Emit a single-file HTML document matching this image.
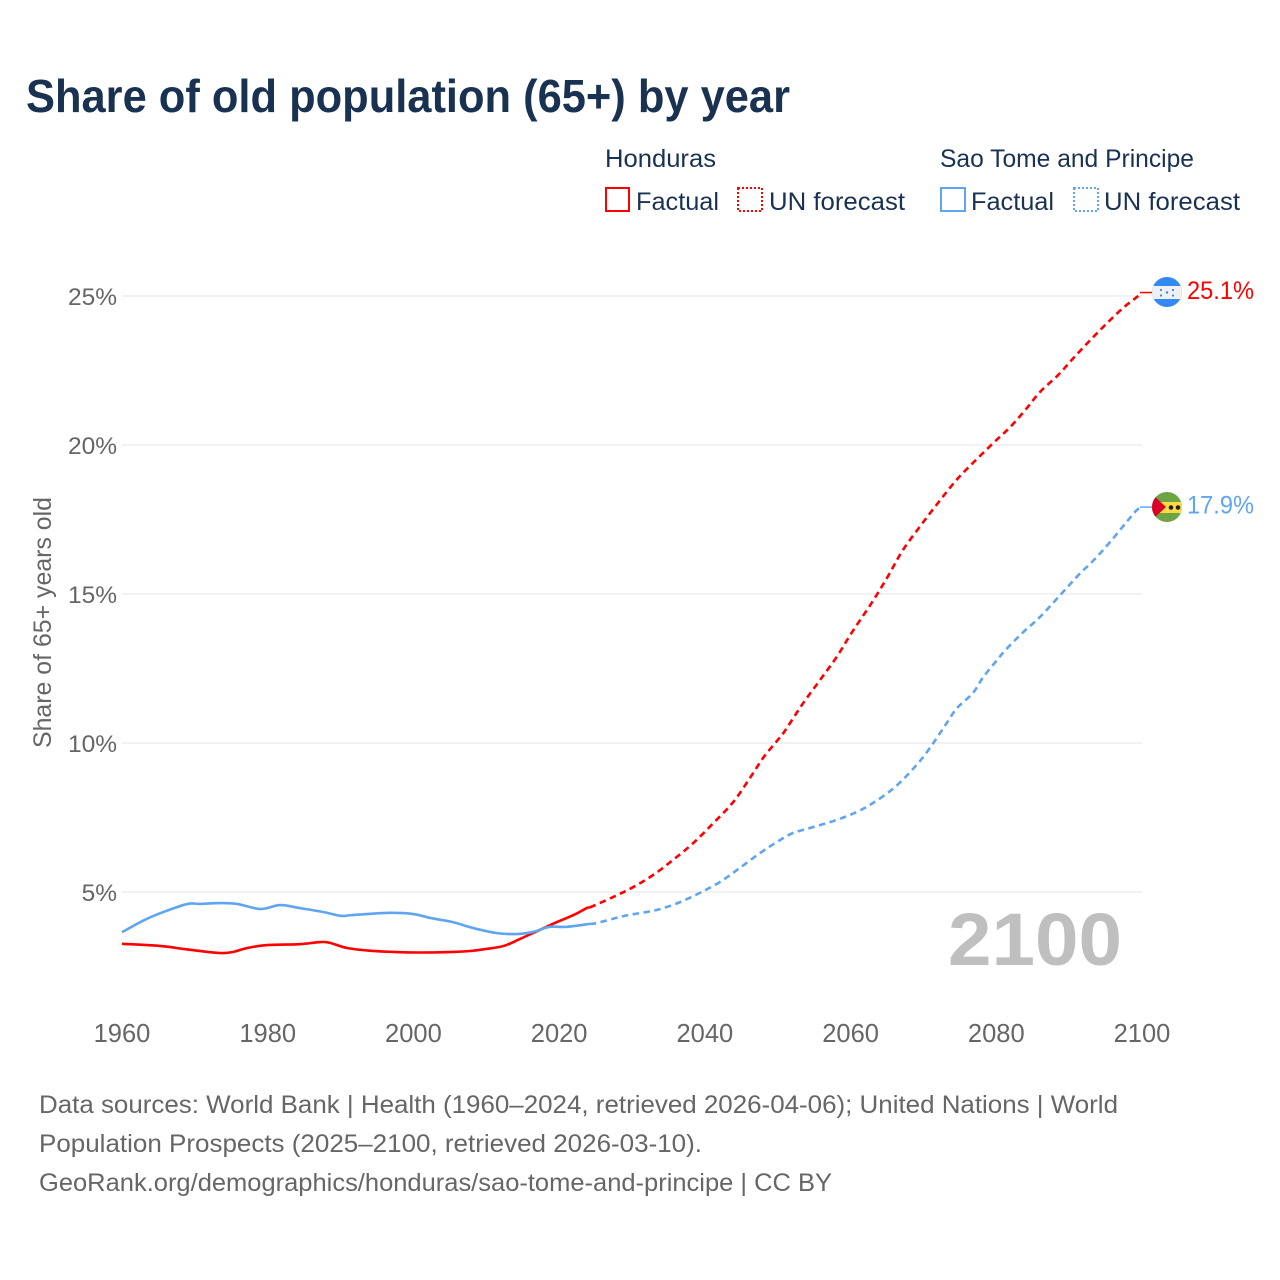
<!DOCTYPE html>
<html lang="en">
<head>
<meta charset="utf-8">
<title>Share of old population (65+) by year</title>
<style>
html,body{margin:0;padding:0;background:#fff;width:1280px;height:1280px;overflow:hidden}
svg{display:block}
text{font-family:"Liberation Sans",Arial,sans-serif}
</style>
</head>
<body>
<svg id="chart" xmlns="http://www.w3.org/2000/svg" width="1280" height="1280" viewBox="0 0 1280 1280">
  <rect width="1280" height="1280" fill="#fff"/>
  <text x="26" y="112" font-size="46" font-weight="700" fill="#1a3252" textLength="764" lengthAdjust="spacingAndGlyphs">Share of old population (65+) by year</text>

  <g font-size="25" fill="#1a3252">
    <text x="605" y="167" textLength="111" lengthAdjust="spacingAndGlyphs">Honduras</text>
    <text x="940" y="167" textLength="254" lengthAdjust="spacingAndGlyphs">Sao Tome and Principe</text>
    <rect x="606" y="188" width="23" height="23" fill="none" stroke="#ff0000" stroke-width="2"/>
    <text x="636" y="210" textLength="83" lengthAdjust="spacingAndGlyphs">Factual</text>
    <rect x="738" y="188" width="24" height="23" fill="none" stroke="#ff0000" stroke-width="2" stroke-dasharray="2 2"/>
    <text x="769" y="210" textLength="136" lengthAdjust="spacingAndGlyphs">UN forecast</text>
    <rect x="941" y="188" width="24" height="23" fill="none" stroke="#60a5f0" stroke-width="2"/>
    <text x="971" y="210" textLength="83" lengthAdjust="spacingAndGlyphs">Factual</text>
    <rect x="1074" y="188" width="24" height="23" fill="none" stroke="#60a5f0" stroke-width="2" stroke-dasharray="2 2"/>
    <text x="1104" y="210" textLength="136" lengthAdjust="spacingAndGlyphs">UN forecast</text>
  </g>

  <g id="grid"></g>
  <g id="yticks"></g>
  <g id="xticks"></g>
  <text transform="translate(51,622.5) rotate(-90)" text-anchor="middle" font-size="25" fill="#666" textLength="251" lengthAdjust="spacingAndGlyphs">Share of 65+ years old</text>
  <text x="948" y="965" font-size="74" font-weight="700" fill="#bfbfbf" textLength="174" lengthAdjust="spacingAndGlyphs">2100</text>
  <g id="series"></g>

  <g>
    <clipPath id="clipH"><circle cx="1167" cy="292" r="15"/></clipPath>
    <g clip-path="url(#clipH)">
      <rect x="1152" y="277" width="30" height="30" fill="#338af3"/>
      <rect x="1152" y="286" width="30" height="13" fill="#f0f0f0"/>
      <g fill="#338af3">
        <circle cx="1167" cy="292.5" r="1.2"/><circle cx="1161" cy="290" r="1.1"/><circle cx="1173" cy="290" r="1.1"/><circle cx="1161" cy="295.5" r="1.1"/><circle cx="1173" cy="295.5" r="1.1"/>
      </g>
    </g>
  </g>
  <g>
    <clipPath id="clipS"><circle cx="1167" cy="507" r="15"/></clipPath>
    <g clip-path="url(#clipS)">
      <rect x="1152" y="492" width="30" height="30" fill="#6da544"/>
      <rect x="1152" y="502" width="30" height="11" fill="#ffda44"/>
      <path d="M1152 494 L1166 507 L1152 520 Z" fill="#d80027"/>
      <circle cx="1171" cy="507.5" r="2.3" fill="#222"/>
      <circle cx="1178" cy="507.5" r="2.3" fill="#222"/>
    </g>
  </g>

  <g font-size="25" fill="#666">
    <text x="39" y="1113" textLength="1079" lengthAdjust="spacingAndGlyphs">Data sources: World Bank | Health (1960–2024, retrieved 2026-04-06); United Nations | World</text>
    <text x="39" y="1152" textLength="663" lengthAdjust="spacingAndGlyphs">Population Prospects (2025–2100, retrieved 2026-03-10).</text>
    <text x="39" y="1191" textLength="793" lengthAdjust="spacingAndGlyphs">GeoRank.org/demographics/honduras/sao-tome-and-principe | CC BY</text>
  </g>
</svg>
<script>
var yTicks = [5, 10, 15, 20, 25];
var xTicks = [1960, 1980, 2000, 2020, 2040, 2060, 2080, 2100];

var hondurasFactualYears = [1960,1965.2,1968.4,1971.7,1973.9,1975.3,1977.2,1979.9,1984.4,1987.2,1988.6,1990.9,1994,1997.2,2000.9,2005.4,2007.8,2010,2012.4,2014.6,2017,2019.7,2022,2023.8,2024.2];
var hondurasFactualValues = [3.26,3.19,3.09,2.99,2.95,2.99,3.12,3.22,3.25,3.32,3.29,3.12,3.03,2.99,2.97,2.99,3.02,3.09,3.19,3.42,3.69,3.99,4.23,4.46,4.48];

var hondurasForecastYears = [2024.2,2027.4,2030.2,2032.9,2035.6,2038.4,2041.2,2043.9,2046.2,2048,2050,2050.8,2053.5,2055.8,2058.1,2060.2,2062.7,2065,2067.2,2070,2072.3,2074.3,2076.1,2079.6,2081.9,2084.2,2086,2088.5,2090.6,2092.9,2095.2,2097.4,2098.8,2100];
var hondurasForecastValues = [4.48,4.83,5.17,5.57,6.07,6.64,7.32,8.02,8.83,9.5,10.1,10.34,11.34,12.11,12.89,13.72,14.63,15.54,16.48,17.42,18.15,18.76,19.23,20.07,20.6,21.24,21.78,22.35,22.92,23.52,24.09,24.6,24.87,25.1];

var saoTomeFactualYears = [1960,1963,1965.7,1969,1970.7,1973.5,1975.8,1979,1981.7,1984.4,1987.6,1990,1991.3,1993.6,1996.8,2000,2002.3,2005.4,2008.2,2011.5,2014.2,2016.4,2018.7,2021,2024.2];
var saoTomeFactualValues = [3.65,4.05,4.33,4.6,4.6,4.63,4.6,4.43,4.56,4.46,4.33,4.2,4.22,4.26,4.3,4.26,4.13,3.99,3.79,3.62,3.59,3.66,3.83,3.83,3.93];

var saoTomeForecastYears = [2024.2,2025.2,2028.8,2032,2033.9,2036.6,2039.3,2042.1,2044.8,2047.6,2049.9,2052.1,2054.9,2058.1,2060.8,2063.1,2065.8,2068.2,2070.5,2073.2,2074.6,2076.8,2078.2,2080.1,2080.9,2082.2,2083.7,2086,2088.8,2091.3,2093.4,2095.6,2097.9,2099.3,2100];
var saoTomeForecastValues = [3.93,3.96,4.19,4.33,4.43,4.66,4.97,5.34,5.81,6.31,6.68,6.98,7.18,7.42,7.68,7.99,8.46,9.03,9.7,10.67,11.17,11.68,12.21,12.78,13.02,13.36,13.72,14.23,14.97,15.64,16.14,16.74,17.42,17.82,17.9];

var hondurasLatest = 25.1;
var saoTomeLatest = 17.9;

var NS = 'http://www.w3.org/2000/svg';
function xScale(year) { return 122 + (year - 1960) * (1020 / 140); }
function yScale(value) { return 1041 - value * 29.8; }
function linePath(years, values) {
  var n = years.length;
  var xs = years.map(xScale);
  var ys = values.map(yScale);
  var d = 'M' + xs[0].toFixed(2) + ' ' + ys[0].toFixed(2);
  for (var i = 0; i < n - 1; i++) {
    var a = Math.max(i - 1, 0);
    var b = Math.min(i + 2, n - 1);
    var c1x = xs[i] + (xs[i + 1] - xs[a]) / 6;
    var c1y = ys[i] + (ys[i + 1] - ys[a]) / 6;
    var c2x = xs[i + 1] - (xs[b] - xs[i]) / 6;
    var c2y = ys[i + 1] - (ys[b] - ys[i]) / 6;
    d += 'C' + c1x.toFixed(2) + ' ' + c1y.toFixed(2) + ' ' + c2x.toFixed(2) + ' ' + c2y.toFixed(2) + ' ' + xs[i + 1].toFixed(2) + ' ' + ys[i + 1].toFixed(2);
  }
  return d;
}

var grid = document.getElementById('grid');
var yGroup = document.getElementById('yticks');
var xGroup = document.getElementById('xticks');
var series = document.getElementById('series');

yTicks.forEach(function (t) {
  var line = document.createElementNS(NS, 'line');
  
  
  line.setAttribute('x1', 122);
  line.setAttribute('x2', 1142);
  line.setAttribute('y1', yScale(t));
  line.setAttribute('y2', yScale(t));
  line.setAttribute('stroke', '#e6e6e6');
  line.setAttribute('stroke-width', '1');
  grid.appendChild(line);

  var label = document.createElementNS(NS, 'text');
  
  
  label.setAttribute('x', 117);
  label.setAttribute('y', yScale(t) + 9);
  label.setAttribute('text-anchor', 'end');
  label.setAttribute('font-size', '24.5');
  label.setAttribute('fill', '#666');
  label.textContent = t + '%';
  yGroup.appendChild(label);
});

xTicks.forEach(function (t) {
  var label = document.createElementNS(NS, 'text');
  
  
  label.setAttribute('x', xScale(t));
  label.setAttribute('y', 1042);
  label.setAttribute('text-anchor', 'middle');
  label.setAttribute('font-size', '25.5');
  label.setAttribute('fill', '#666');
  label.textContent = t;
  xGroup.appendChild(label);
});

function addLine(name, years, values, color, dashed) {
  var p = document.createElementNS(NS, 'path');
  
  
  p.setAttribute('d', linePath(years, values));
  p.setAttribute('fill', 'none');
  p.setAttribute('stroke', color);
  p.setAttribute('stroke-width', '2.6');
  p.setAttribute('stroke-linejoin', 'round');
  if (dashed) { p.setAttribute('stroke-dasharray', '6.5 4.5'); }
  series.appendChild(p);
}
addLine('honduras-forecast-line', hondurasForecastYears, hondurasForecastValues, '#ff0000', true);
addLine('sao-tome-forecast-line', saoTomeForecastYears, saoTomeForecastValues, '#60a5f0', true);
addLine('honduras-factual-line', hondurasFactualYears, hondurasFactualValues, '#ff0000', false);
addLine('sao-tome-factual-line', saoTomeFactualYears, saoTomeFactualValues, '#60a5f0', false);

function addEnd(name, value, color) {
  var y = yScale(value);
  var c = document.createElementNS(NS, 'line');
  
  
  c.setAttribute('x1', 1140);
  c.setAttribute('x2', 1152);
  c.setAttribute('y1', y - 0.5);
  c.setAttribute('y2', y - 0.5);
  c.setAttribute('stroke', color);
  c.setAttribute('stroke-width', '1.5');
  series.appendChild(c);

  var t = document.createElementNS(NS, 'text');
  
  
  t.setAttribute('x', 1187);
  t.setAttribute('y', y + 6);
  t.setAttribute('font-size', '25');
  t.setAttribute('fill', color);
  t.setAttribute('textLength', '67');
  t.setAttribute('lengthAdjust', 'spacingAndGlyphs');
  t.textContent = value.toFixed(1) + '%';
  series.appendChild(t);
}
addEnd('honduras', hondurasLatest, '#ff0000');
addEnd('sao-tome', saoTomeLatest, '#60a5f0');
</script>
</body>
</html>
